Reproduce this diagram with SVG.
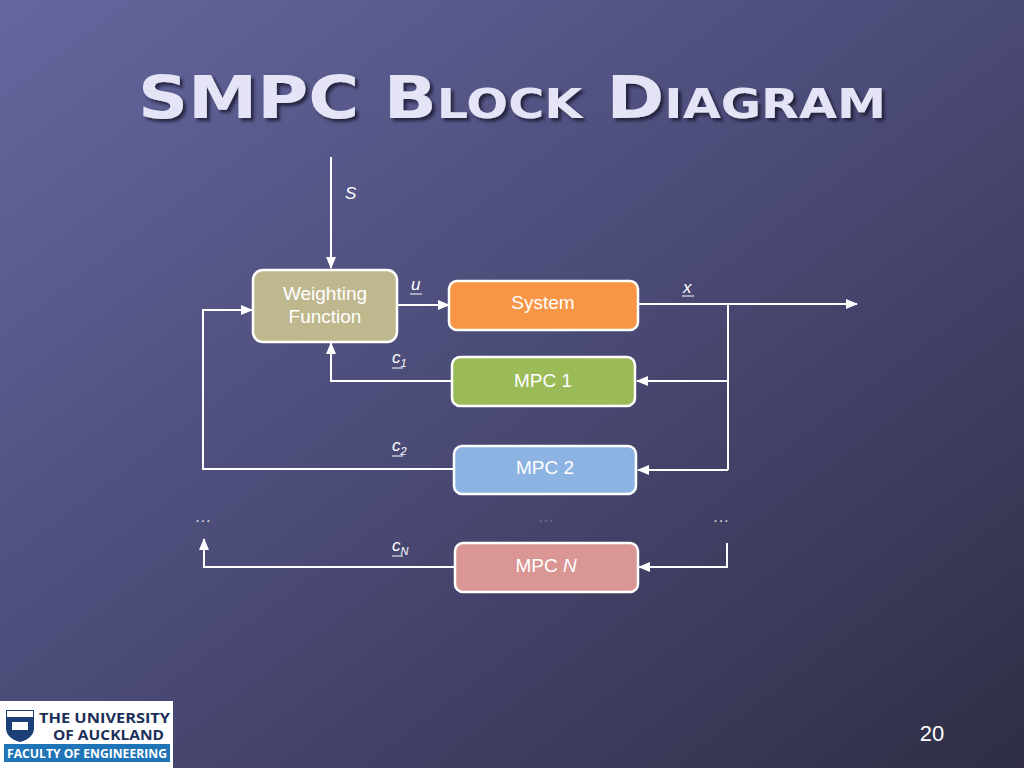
<svg xmlns="http://www.w3.org/2000/svg" width="1024" height="768" viewBox="0 0 1024 768">
<defs>
<linearGradient id="bg" x1="0" y1="0" x2="1" y2="1">
<stop offset="0" stop-color="#65669e"/>
<stop offset="0.5" stop-color="#4a4a76"/>
<stop offset="1" stop-color="#2f2e46"/>
</linearGradient>
<marker id="ah" viewBox="0 0 12 10" refX="11" refY="5" markerWidth="12" markerHeight="10" markerUnits="userSpaceOnUse" orient="auto">
<path d="M0,0 L12,5 L0,10 z" fill="#ffffff"/>
</marker>
<filter id="sh" x="-5%" y="-20%" width="110%" height="140%">
<feDropShadow dx="3" dy="3" stdDeviation="1.5" flood-color="#1c1b30" flood-opacity="0.8"/>
</filter>
</defs>
<style>
.box{stroke:#ffffff;stroke-width:2.5}
.lbl{font-family:"Liberation Sans",Arial,sans-serif;font-size:19px;fill:#ffffff;text-anchor:middle}
.var{font-family:"Liberation Sans",Arial,sans-serif;font-size:17px;fill:#ffffff;font-style:italic}
.sub{font-size:11px}
.ln{stroke:#ffffff;stroke-width:2;fill:none}
.ul{stroke:#ffffff;stroke-width:1}
</style>
<rect width="1024" height="768" fill="url(#bg)"/>
<text x="512" y="118" font-family="'DejaVu Sans',sans-serif" font-weight="bold" font-size="58" fill="#e4e4f6" text-anchor="middle" style="font-variant:small-caps" textLength="748" lengthAdjust="spacingAndGlyphs" filter="url(#sh)">SMPC Block Diagram</text>

<g id="connectors">
<line class="ln" x1="331" y1="157" x2="331" y2="268" marker-end="url(#ah)"/>
<line class="ln" x1="397" y1="305" x2="449" y2="305" marker-end="url(#ah)"/>
<line class="ln" x1="638" y1="304" x2="857" y2="304" marker-end="url(#ah)"/>
<line class="ln" x1="728" y1="304" x2="728" y2="470"/>
<line class="ln" x1="728" y1="381" x2="637" y2="381" marker-end="url(#ah)"/>
<line class="ln" x1="728" y1="470" x2="638" y2="470" marker-end="url(#ah)"/>
<polyline class="ln" points="452,381 331,381 331,343" marker-end="url(#ah)"/>
<polyline class="ln" points="454,469 203,469 203,310 252,310" marker-end="url(#ah)"/>
<polyline class="ln" points="727,543 727,567 639,567" marker-end="url(#ah)"/>
<polyline class="ln" points="455,567 204,567 204,539" marker-end="url(#ah)"/>
</g>

<g id="labels">
<text class="var" x="345" y="199">S</text>
<text class="var" x="411" y="290">u</text><line class="ul" x1="410" y1="294" x2="422" y2="294"/>
<text class="var" x="683" y="293">x</text><line class="ul" x1="682" y1="296" x2="694" y2="296"/>
<text class="var" x="392" y="363">c<tspan class="sub" dy="4">1</tspan></text><line class="ul" x1="392" y1="368" x2="403" y2="368"/>
<text class="var" x="392" y="451">c<tspan class="sub" dy="4">2</tspan></text><line class="ul" x1="392" y1="456" x2="403" y2="456"/>
<text class="var" x="392" y="551">c<tspan class="sub" dy="4">N</tspan></text><line class="ul" x1="392" y1="556" x2="403" y2="556"/>
<text class="var" x="195" y="522" font-size="14" fill-opacity="0.8">…</text>
<text class="var" x="713" y="522" font-size="14" fill-opacity="0.8">…</text>
<text class="var" x="538" y="522" font-size="12" fill-opacity="0.25">…</text>
</g>

<g id="weighting">
<rect class="box" x="253" y="270" width="144" height="72" rx="10" fill="#bfb88e"/>
<text class="lbl" x="325" y="300">Weighting</text>
<text class="lbl" x="325" y="323">Function</text>
</g>
<g id="system">
<rect class="box" x="449" y="281" width="189" height="49" rx="8" fill="#f79646"/>
<text class="lbl" x="543" y="309">System</text>
</g>
<g id="mpc1">
<rect class="box" x="452" y="357" width="183" height="49" rx="8" fill="#9bbb59"/>
<text class="lbl" x="543" y="387">MPC 1</text>
</g>
<g id="mpc2">
<rect class="box" x="454" y="446" width="182" height="48" rx="8" fill="#8db3e2"/>
<text class="lbl" x="545" y="474">MPC 2</text>
</g>
<g id="mpcn">
<rect class="box" x="455" y="543" width="183" height="49" rx="8" fill="#d99694"/>
<text class="lbl" x="546" y="572">MPC <tspan font-style="italic">N</tspan></text>
</g>

<g id="logo">
<rect x="0" y="701" width="173" height="67" fill="#ffffff"/>
<path d="M6,710 h28 v18 q0,10 -14,14 q-14,-4 -14,-14 z" fill="#1c3f77"/>
<rect x="7" y="711" width="26" height="6" fill="#ffffff"/>
<rect x="12" y="722" width="16" height="8" fill="#ffffff"/>
<text x="39" y="723" font-family="'Open Sans','Liberation Sans',sans-serif" font-weight="bold" font-size="14.5" fill="#1c2e5a" textLength="131" lengthAdjust="spacingAndGlyphs">THE UNIVERSITY</text>
<text x="53" y="740" font-family="'Open Sans','Liberation Sans',sans-serif" font-weight="bold" font-size="14.5" fill="#1c2e5a" textLength="111" lengthAdjust="spacingAndGlyphs">OF AUCKLAND</text>
<rect x="4" y="744" width="166" height="18" fill="#1f74b8"/>
<text x="87" y="758" font-family="'Open Sans','Liberation Sans',sans-serif" font-weight="bold" font-size="12" fill="#ffffff" text-anchor="middle" textLength="160" lengthAdjust="spacingAndGlyphs">FACULTY OF ENGINEERING</text>
</g>
<text x="932" y="741" font-family="Liberation Sans,Arial,sans-serif" font-size="22" fill="#ffffff" text-anchor="middle">20</text>
</svg>
